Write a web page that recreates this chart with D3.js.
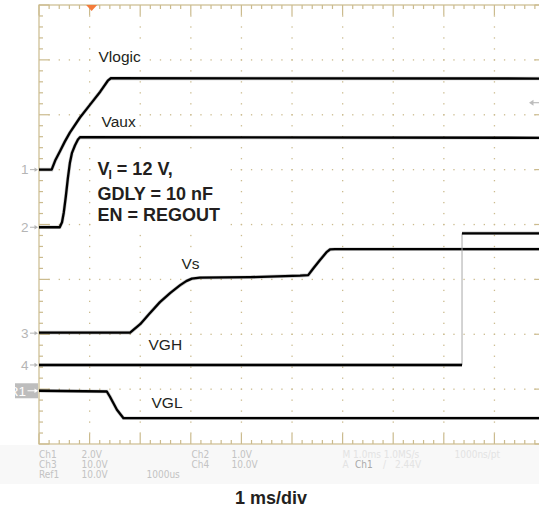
<!DOCTYPE html>
<html>
<head>
<meta charset="utf-8">
<script src="https://cdn.jsdelivr.net/npm/d3@7"></script>
<style>
  html, body { margin: 0; padding: 0; background: #fff; }
  svg { display: block; }
</style>
</head>
<body>
<svg id="chart" width="539" height="512"></svg>
<script>
// Timebase: 10 horizontal divisions at 1 ms/div; 8 vertical divisions
const timeDomainMs = [0, 10];
const divDomain = [-4, 4];
const triggerTimeMs = 1.04;
const triggerLevelVolts = 2.44;

// Channel setup: volts per division and ground-marker offset (divisions)
const channelNames = ["1", "2", "3", "4", "R1"];
const channelVoltsPerDiv = [2, 1, 10, 10, 10];
const channelOffsetDiv = [1.0, -0.05, -1.98, -2.56, -3.03];

// Waveforms: time in ms, level in volts
const vlogicTime  = [0, 0.25, 0.32, 0.42, 0.51, 0.61, 0.81, 1.01, 1.21, 1.36, 1.42, 10];
const vlogicVolts = [0, 0, 0.33, 0.69, 1.02, 1.35, 1.90, 2.37, 2.84, 3.24, 3.33, 3.32];

const vauxTime  = [0, 0.41, 0.455, 0.49, 0.53, 0.57, 0.61, 0.65, 0.71, 0.77, 0.81, 10];
const vauxVolts = [0, 0, 0.09, 0.27, 0.56, 0.89, 1.17, 1.35, 1.49, 1.60, 1.64, 1.63];

const vsTime  = [0, 1.80, 2.00, 2.19, 2.39, 2.59, 2.79, 2.91, 3.02, 3.18, 4.17, 5.16, 5.32, 5.42, 5.55, 5.69, 5.75, 5.85, 10];
const vsVolts = [0.1, 0.1, 1.64, 3.64, 5.65, 7.29, 8.75, 9.48, 9.93, 10.11, 10.2, 10.48, 10.57, 11.79, 13.30, 14.82, 15.25, 15.3, 15.3];

const vghTime  = [0, 8.36, 8.36, 10];
const vghVolts = [0, 0, 24.0, 24.0];

const vglTime  = [0, 1.34, 1.40, 1.54, 1.67, 10];
const vglVolts = [0, -0.13, -1.04, -3.46, -5.0, -5.0];

const traceLabels = ["Vlogic", "Vaux", "Vs", "VGH", "VGL"];
const traceTimes = [vlogicTime, vauxTime, vsTime, vghTime, vglTime];
const traceVolts = [vlogicVolts, vauxVolts, vsVolts, vghVolts, vglVolts];
const traceChannel = [0, 1, 2, 3, 4];

// Conditions block
const conditionLines = ["= 12 V,", "GDLY = 10 nF", "EN = REGOUT"];

// Scope readout rows
const readoutLeftRows = [
  ["Ch1", "2.0V", "", "Ch2", "1.0V"],
  ["Ch3", "10.0V", "", "Ch4", "10.0V"],
  ["Ref1", "10.0V", "1000us", "", ""]
];
const readoutRightRows = [
  ["M 1.0ms 1.0MS/s", "1000ns/pt"],
  ["A", "Ch1", "/", "2.44V"]
];
const timebaseLabel = "1 ms/div";

// ---------------------------------------------------------------
const svg = d3.select("#chart");
const W = 539, H = 512;
const gridColor = "#cbbb8e";

const x = d3.scaleLinear().domain(timeDomainMs).range([39, 545]);
const y = d3.scaleLinear().domain(divDomain).range([444, 5]);
const chY = (ch, v) => y(channelOffsetDiv[ch] + v / channelVoltsPerDiv[ch]);

svg.append("rect").attr("width", W).attr("height", H).attr("fill", "#fff");
// readout band
svg.append("rect").attr("x", 0).attr("y", 445).attr("width", W).attr("height", 39).attr("fill", "#f8f8f8");

// Graticule: dotted interior division lines
const gGrid = svg.append("g");
const minorT = d3.range(0, 10.001, 0.2);
const minorD = d3.range(-4, 4.001, 0.2);
d3.range(1, 10).forEach(t => {
  gGrid.selectAll(null).data(minorD.filter(d => d > -3.99 && d < 3.99)).enter().append("rect")
    .attr("x", x(t) - 0.6).attr("y", d => y(d) - 0.6).attr("width", 1.3).attr("height", 1.3)
    .attr("fill", gridColor);
});
d3.range(-3, 4).forEach(d => {
  gGrid.selectAll(null).data(minorT.filter(t => t > 0.01 && t < 9.99)).enter().append("rect")
    .attr("x", t => x(t) - 0.6).attr("y", y(d) - 0.6).attr("width", 1.3).attr("height", 1.3)
    .attr("fill", gridColor);
});

// Graticule border and tick marks
const gBorder = svg.append("g").attr("stroke", gridColor).attr("stroke-width", 1.2);
gBorder.append("rect").attr("x", x(0)).attr("y", y(4)).attr("width", x(10) - x(0)).attr("height", y(-4) - y(4))
  .attr("fill", "none");
const isMajor = v => Math.abs(v - Math.round(v)) < 1e-6;
minorT.forEach(t => {
  const len = isMajor(t) ? 10.5 : 4;
  gBorder.append("line").attr("x1", x(t)).attr("x2", x(t)).attr("y1", y(4)).attr("y2", y(4) + len);
  gBorder.append("line").attr("x1", x(t)).attr("x2", x(t)).attr("y1", y(-4)).attr("y2", y(-4) - len);
});
minorD.forEach(d => {
  const len = isMajor(d) ? 10.5 : 4;
  gBorder.append("line").attr("x1", x(0)).attr("x2", x(0) + len).attr("y1", y(d)).attr("y2", y(d));
  gBorder.append("line").attr("x1", x(10)).attr("x2", x(10) - len).attr("y1", y(d)).attr("y2", y(d));
});

// Conditions box (white panel over the graticule)
const gCond = svg.append("g");
gCond.append("rect").attr("x", 93).attr("y", 153).attr("width", 136).attr("height", 75).attr("fill", "#fff");
const condFont = "'Liberation Sans', Arial, Helvetica, sans-serif";
const t0 = gCond.append("text").attr("x", 97.5).attr("y", 175)
  .attr("font-family", condFont).attr("font-weight", "bold").attr("font-size", 18).attr("fill", "#231f20");
t0.append("tspan").text("V");
t0.append("tspan").attr("font-size", 12).attr("dy", 4).attr("dx", -1).text("I");
t0.append("tspan").attr("dy", -4).text(" " + conditionLines[0]);
[200, 221].forEach((by, i) => {
  gCond.append("text").attr("x", 97.5).attr("y", by)
    .attr("font-family", condFont).attr("font-weight", "bold").attr("font-size", 18).attr("fill", "#231f20")
    .text(conditionLines[i + 1]);
});

// Trace name labels with white backing
const labelPos = [[98.5, 62], [101.5, 126.5], [181.5, 269], [148.5, 350], [151.5, 408]];
const gLab = svg.append("g");
traceLabels.forEach((name, i) => {
  const t = gLab.append("text").attr("x", labelPos[i][0]).attr("y", labelPos[i][1])
    .attr("font-family", condFont).attr("font-size", 15.5).attr("fill", "#231f20").text(name);
  const bb = t.node().getBBox();
  gLab.insert("rect", "text").attr("x", bb.x - 3).attr("y", bb.y - 1).attr("width", bb.width + 6)
    .attr("height", bb.height + 2).attr("fill", "#fff");
});
gLab.selectAll("text").raise();

// Waveforms: continuous runs drawn heavy; instantaneous steps drawn as a thin light edge
const gTr = svg.append("g");
const line = d3.line().x(p => x(p[0])).y(p => p[1]);
traceTimes.forEach((times, i) => {
  const ch = traceChannel[i];
  const pts = times.map((t, k) => [t, chY(ch, traceVolts[i][k])]);
  let run = [pts[0]];
  const runs = [];
  for (let k = 1; k < pts.length; k++) {
    if (pts[k][0] === pts[k - 1][0]) {
      runs.push(run);
      gTr.append("line").attr("x1", x(pts[k][0])).attr("x2", x(pts[k][0]))
        .attr("y1", pts[k - 1][1]).attr("y2", pts[k][1])
        .attr("stroke", "#a8a8a8").attr("stroke-width", 1);
      run = [pts[k]];
    } else run.push(pts[k]);
  }
  runs.push(run);
  runs.forEach(r => {
    gTr.append("path").attr("d", line(r)).attr("fill", "none")
      .attr("stroke", "#000").attr("stroke-width", 3.6).attr("stroke-opacity", 0.22);
    gTr.append("path").attr("d", line(r)).attr("fill", "none")
      .attr("stroke", "#000").attr("stroke-width", 2.3).attr("stroke-linejoin", "round");
  });
});

// Channel ground markers at the left edge
const markerColor = "#b5b5b5";
function arrowRight(g, x1, x2, yy, color) {
  g.append("line").attr("x1", x1).attr("x2", x2 - 2).attr("y1", yy).attr("y2", yy)
    .attr("stroke", color).attr("stroke-width", 1);
  g.append("path").attr("d", `M${x2},${yy} L${x2 - 3.5},${yy - 2.2} L${x2 - 3.5},${yy + 2.2} Z`).attr("fill", color);
}
const gMk = svg.append("g");
channelNames.forEach((nm, ch) => {
  const yy = y(channelOffsetDiv[ch]);
  if (nm === "R1") {
    gMk.append("clipPath").attr("id", "r1clip").append("rect")
      .attr("x", 15).attr("y", yy - 7.5).attr("width", 23).attr("height", 15);
    gMk.append("rect").attr("x", 15).attr("y", yy - 7.5).attr("width", 23).attr("height", 15).attr("fill", "#bdbdbd");
    gMk.append("text").attr("clip-path", "url(#r1clip)").attr("x", 26).attr("y", yy + 4.8)
      .attr("text-anchor", "end").attr("font-family", condFont).attr("font-size", 13.5).attr("fill", "#fff").text(nm);
    arrowRight(gMk, 27.5, 38, yy, "#fff");
  } else {
    gMk.append("text").attr("x", 28.5).attr("y", yy + 4.8).attr("text-anchor", "end")
      .attr("font-family", condFont).attr("font-size", 13.5).attr("fill", markerColor).text(nm);
    arrowRight(gMk, 30, 38, yy, markerColor);
  }
});

// Trigger position (top) and trigger level (right edge)
svg.append("path")
  .attr("d", `M${x(triggerTimeMs) - 5.5},${y(4)} L${x(triggerTimeMs) + 5.5},${y(4)} L${x(triggerTimeMs)},${y(4) + 6} Z`)
  .attr("fill", "#f47b3a");
const trigY = chY(0, triggerLevelVolts);
svg.append("line").attr("x1", 532).attr("x2", 539).attr("y1", trigY).attr("y2", trigY)
  .attr("stroke", "#bdbdbd").attr("stroke-width", 1.2);
svg.append("path").attr("d", `M529,${trigY} L533.5,${trigY - 3} L533.5,${trigY + 3} Z`).attr("fill", "#bdbdbd");

// Readout text
const roFont = "'DejaVu Sans Condensed', 'DejaVu Sans', sans-serif";
const leftCols = [39, 81.5, 146.5, 191.5, 231.5];
const rowY = [458.3, 468.3, 478.3];
readoutLeftRows.forEach((row, r) => {
  row.forEach((txt, c) => {
    if (!txt) return;
    svg.append("text").attr("x", leftCols[c]).attr("y", rowY[r])
      .attr("font-family", roFont).attr("font-size", 10).attr("fill", "#c3c3c3").text(txt);
  });
});
const rightCols = [[342.5, 454.5], [342.5, 355, 383, 395]];
readoutRightRows.forEach((row, r) => {
  row.forEach((txt, c) => {
    const col = (r === 1 && c === 1) ? "#a9a9a9" : "#e3e3e3";
    svg.append("text").attr("x", rightCols[r][c]).attr("y", rowY[r])
      .attr("font-family", roFont).attr("font-size", 10).attr("fill", col).text(txt);
  });
});

// Timebase caption
svg.append("text").attr("x", 271).attr("y", 504).attr("text-anchor", "middle")
  .attr("font-family", condFont).attr("font-weight", "bold").attr("font-size", 18).attr("fill", "#231f20")
  .text(timebaseLabel);
</script>
</body>
</html>
